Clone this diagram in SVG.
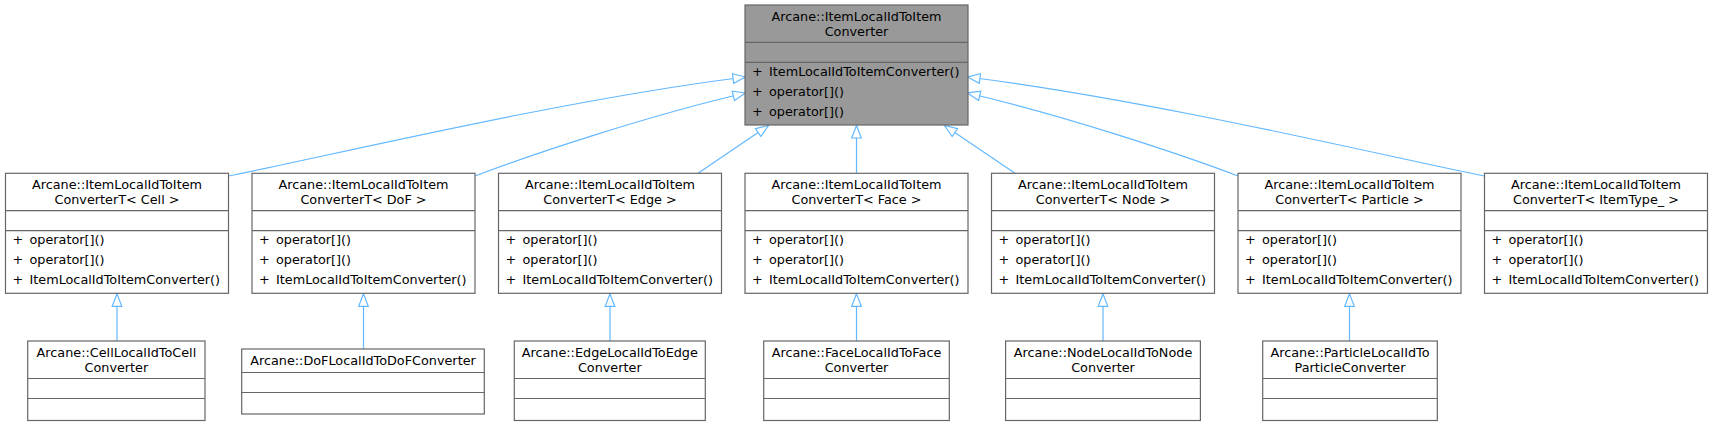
<svg xmlns="http://www.w3.org/2000/svg" width="1713" height="427" viewBox="0 0 1713 427">
<style>
text{font-family:"DejaVu Sans","Liberation Sans",sans-serif;font-size:12.8px;fill:#000}
.t{text-anchor:middle}
.box{fill:#fff;stroke:#666;stroke-width:1.2}
.root{fill:#999;stroke:#666;stroke-width:1.2}
.sep{stroke:#666;stroke-width:1.2;fill:none}
.e{fill:none;stroke:#63b8ff;stroke-width:1.2;marker-end:url(#ah)}
</style>
<defs>
<marker id="ah" markerUnits="userSpaceOnUse" viewBox="-14 -7 16 14" markerWidth="16" markerHeight="14" refX="0" refY="0" orient="auto">
<path d="M0,0 L-12.5,-4.8 L-12.5,4.8 Z" fill="#fff" stroke="#63b8ff" stroke-width="1.2"/>
</marker>
</defs>

<g id="connectors">
<path class="e" d="M228.5,176 C320,158 560,100 745.5,77"/>
<path class="e" d="M475,176 C530,155 650,115 745.5,93"/>
<path class="e" d="M698,173.3 L768.5,125.5"/>
<path class="e" d="M856.5,173.3 L856.5,125.5"/>
<path class="e" d="M1015,173.3 L944.5,125.5"/>
<path class="e" d="M1238,176 C1183,155 1063,115 967.5,93"/>
<path class="e" d="M1484.5,176 C1393,158 1153,100 967.5,77"/>
<path class="e" d="M117,341 L117,293.8"/>
<path class="e" d="M363.5,349 L363.5,293.8"/>
<path class="e" d="M610,341 L610,293.8"/>
<path class="e" d="M856.5,341 L856.5,293.8"/>
<path class="e" d="M1103,341 L1103,293.8"/>
<path class="e" d="M1349.5,341 L1349.5,293.8"/>
</g>

<g id="base">
<rect class="root" x="745" y="5" width="223" height="120"/>
<path class="sep" d="M745,42.3 H968 M745,62.3 H968"/>
<text class="t" x="856.5" y="21">Arcane::ItemLocalIdToItem</text>
<text class="t" x="856.5" y="36">Converter</text>
<text y="75.7"><tspan x="752">+</tspan><tspan x="769">ItemLocalIdToItemConverter()</tspan></text>
<text y="95.7"><tspan x="752">+</tspan><tspan x="769">operator[]()</tspan></text>
<text y="115.7"><tspan x="752">+</tspan><tspan x="769">operator[]()</tspan></text>
</g>

<g id="convCell">
<rect class="box" x="5.5" y="173.3" width="223" height="120"/>
<path class="sep" d="M5.5,210.7 H228.5 M5.5,230.7 H228.5"/>
<text class="t" x="117" y="189.3">Arcane::ItemLocalIdToItem</text>
<text class="t" x="117" y="204">ConverterT&lt; Cell &gt;</text>
<text y="244.2"><tspan x="12.5">+</tspan><tspan x="29.5">operator[]()</tspan></text>
<text y="264.2"><tspan x="12.5">+</tspan><tspan x="29.5">operator[]()</tspan></text>
<text y="284.2"><tspan x="12.5">+</tspan><tspan x="29.5">ItemLocalIdToItemConverter()</tspan></text>
</g>

<g id="convDoF">
<rect class="box" x="252" y="173.3" width="223" height="120"/>
<path class="sep" d="M252,210.7 H475 M252,230.7 H475"/>
<text class="t" x="363.5" y="189.3">Arcane::ItemLocalIdToItem</text>
<text class="t" x="363.5" y="204">ConverterT&lt; DoF &gt;</text>
<text y="244.2"><tspan x="259">+</tspan><tspan x="276">operator[]()</tspan></text>
<text y="264.2"><tspan x="259">+</tspan><tspan x="276">operator[]()</tspan></text>
<text y="284.2"><tspan x="259">+</tspan><tspan x="276">ItemLocalIdToItemConverter()</tspan></text>
</g>

<g id="convEdge">
<rect class="box" x="498.5" y="173.3" width="223" height="120"/>
<path class="sep" d="M498.5,210.7 H721.5 M498.5,230.7 H721.5"/>
<text class="t" x="610" y="189.3">Arcane::ItemLocalIdToItem</text>
<text class="t" x="610" y="204">ConverterT&lt; Edge &gt;</text>
<text y="244.2"><tspan x="505.5">+</tspan><tspan x="522.5">operator[]()</tspan></text>
<text y="264.2"><tspan x="505.5">+</tspan><tspan x="522.5">operator[]()</tspan></text>
<text y="284.2"><tspan x="505.5">+</tspan><tspan x="522.5">ItemLocalIdToItemConverter()</tspan></text>
</g>

<g id="convFace">
<rect class="box" x="745" y="173.3" width="223" height="120"/>
<path class="sep" d="M745,210.7 H968 M745,230.7 H968"/>
<text class="t" x="856.5" y="189.3">Arcane::ItemLocalIdToItem</text>
<text class="t" x="856.5" y="204">ConverterT&lt; Face &gt;</text>
<text y="244.2"><tspan x="752">+</tspan><tspan x="769">operator[]()</tspan></text>
<text y="264.2"><tspan x="752">+</tspan><tspan x="769">operator[]()</tspan></text>
<text y="284.2"><tspan x="752">+</tspan><tspan x="769">ItemLocalIdToItemConverter()</tspan></text>
</g>

<g id="convNode">
<rect class="box" x="991.5" y="173.3" width="223" height="120"/>
<path class="sep" d="M991.5,210.7 H1214.5 M991.5,230.7 H1214.5"/>
<text class="t" x="1103" y="189.3">Arcane::ItemLocalIdToItem</text>
<text class="t" x="1103" y="204">ConverterT&lt; Node &gt;</text>
<text y="244.2"><tspan x="998.5">+</tspan><tspan x="1015.5">operator[]()</tspan></text>
<text y="264.2"><tspan x="998.5">+</tspan><tspan x="1015.5">operator[]()</tspan></text>
<text y="284.2"><tspan x="998.5">+</tspan><tspan x="1015.5">ItemLocalIdToItemConverter()</tspan></text>
</g>

<g id="convParticle">
<rect class="box" x="1238" y="173.3" width="223" height="120"/>
<path class="sep" d="M1238,210.7 H1461 M1238,230.7 H1461"/>
<text class="t" x="1349.5" y="189.3">Arcane::ItemLocalIdToItem</text>
<text class="t" x="1349.5" y="204">ConverterT&lt; Particle &gt;</text>
<text y="244.2"><tspan x="1245">+</tspan><tspan x="1262">operator[]()</tspan></text>
<text y="264.2"><tspan x="1245">+</tspan><tspan x="1262">operator[]()</tspan></text>
<text y="284.2"><tspan x="1245">+</tspan><tspan x="1262">ItemLocalIdToItemConverter()</tspan></text>
</g>

<g id="convItemType">
<rect class="box" x="1484.5" y="173.3" width="223" height="120"/>
<path class="sep" d="M1484.5,210.7 H1707.5 M1484.5,230.7 H1707.5"/>
<text class="t" x="1596" y="189.3">Arcane::ItemLocalIdToItem</text>
<text class="t" x="1596" y="204">ConverterT&lt; ItemType_ &gt;</text>
<text y="244.2"><tspan x="1491.5">+</tspan><tspan x="1508.5">operator[]()</tspan></text>
<text y="264.2"><tspan x="1491.5">+</tspan><tspan x="1508.5">operator[]()</tspan></text>
<text y="284.2"><tspan x="1491.5">+</tspan><tspan x="1508.5">ItemLocalIdToItemConverter()</tspan></text>
</g>

<g id="cellConverter">
<rect class="box" x="27.7" y="341" width="177.3" height="79.5"/>
<path class="sep" d="M27.7,378.5 H205 M27.7,398.5 H205"/>
<text class="t" x="116.4" y="357">Arcane::CellLocalIdToCell</text>
<text class="t" x="116.4" y="371.7">Converter</text>
</g>

<g id="dofConverter">
<rect class="box" x="241.7" y="349" width="242.6" height="65"/>
<path class="sep" d="M241.7,372.5 H484.3 M241.7,392.5 H484.3"/>
<text class="t" x="363" y="365">Arcane::DoFLocalIdToDoFConverter</text>
</g>

<g id="edgeConverter">
<rect class="box" x="514.3" y="341" width="191" height="79.5"/>
<path class="sep" d="M514.3,378.5 H705.3 M514.3,398.5 H705.3"/>
<text class="t" x="609.8" y="357">Arcane::EdgeLocalIdToEdge</text>
<text class="t" x="609.8" y="371.7">Converter</text>
</g>

<g id="faceConverter">
<rect class="box" x="763.7" y="341" width="185.6" height="79.5"/>
<path class="sep" d="M763.7,378.5 H949.3 M763.7,398.5 H949.3"/>
<text class="t" x="856.5" y="357">Arcane::FaceLocalIdToFace</text>
<text class="t" x="856.5" y="371.7">Converter</text>
</g>

<g id="nodeConverter">
<rect class="box" x="1005.6" y="341" width="194.8" height="79.5"/>
<path class="sep" d="M1005.6,378.5 H1200.4 M1005.6,398.5 H1200.4"/>
<text class="t" x="1103" y="357">Arcane::NodeLocalIdToNode</text>
<text class="t" x="1103" y="371.7">Converter</text>
</g>

<g id="particleConverter">
<rect class="box" x="1262.7" y="341" width="174.6" height="79.5"/>
<path class="sep" d="M1262.7,378.5 H1437.3 M1262.7,398.5 H1437.3"/>
<text class="t" x="1350" y="357">Arcane::ParticleLocalIdTo</text>
<text class="t" x="1350" y="371.7">ParticleConverter</text>
</g>
</svg>
